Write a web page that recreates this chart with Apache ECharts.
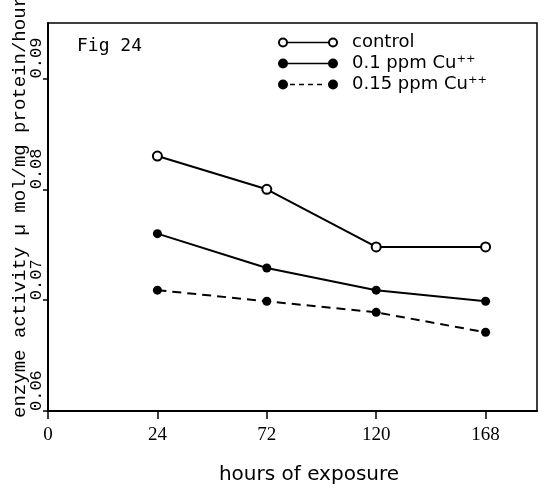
<!DOCTYPE html>
<html><head><meta charset="utf-8">
<script src="https://cdn.jsdelivr.net/npm/echarts@6/dist/echarts.min.js"></script>
<style>html,body{margin:0;padding:0;background:#fff}#c{width:547px;height:498px}</style>
</head><body><div id="c"></div>
<script>
// Tick labels of the (ordinal) time axis, in hours
const xTickLabels = ['0', '24', '72', '120', '168'];
const hours = [24, 72, 120, 168];
const yTicks = [0.06, 0.07, 0.08, 0.09];
const seriesNames = ['control', '0.1 ppm Cu\u207A\u207A', '0.15 ppm Cu\u207A\u207A'];
const control = [0.0830, 0.0800, 0.0748, 0.0748];
const cu01 = [0.0760, 0.0729, 0.0709, 0.0699];
const cu015 = [0.0709, 0.0699, 0.0689, 0.0671];

const pos = h => xTickLabels.indexOf(String(h));
const toData = vals => hours.map((h, i) => [pos(h), vals[i]]);

// legend icons: circle-line-circle
const ring = (cx) => `M${cx - 5},5 A5,5 0 1,1 ${cx + 5},5 A5,5 0 1,1 ${cx - 5},5 Z M${cx - 3},5 A3,3 0 1,0 ${cx + 3},5 A3,3 0 1,0 ${cx - 3},5 Z`;
const dot = (cx) => `M${cx - 5},5 A5,5 0 1,1 ${cx + 5},5 A5,5 0 1,1 ${cx - 5},5 Z`;
const iconOpen = 'path://' + ring(5) + ' ' + ring(55) + ' M9.5,4.2 L50.5,4.2 L50.5,5.8 L9.5,5.8 Z';
const iconSolid = 'path://' + dot(5) + ' ' + dot(55) + ' M9,4.2 L51,4.2 L51,5.8 L9,5.8 Z';
let dashes = '';
for (let x = 12; x < 48; x += 9) dashes += ` M${x},4.3 L${x + 5},4.3 L${x + 5},5.7 L${x},5.7 Z`;
const iconDash = 'path://' + dot(5) + ' ' + dot(55) + dashes;
const legendItemStyle = {color: '#000', borderWidth: 0};

const chart = echarts.init(document.getElementById('c'), null, {renderer: 'canvas'});
chart.setOption({
  animation: false,
  backgroundColor: '#fff',
  grid: {left: 48, top: 23, right: 10, bottom: 87, outerBoundsMode: 'none', containLabel: false,
    show: true, borderColor: '#000', borderWidth: 1.5, backgroundColor: 'transparent'},
  title: {text: 'Fig 24', left: 77, top: 37, padding: 0, textStyle: {fontFamily: 'DejaVu Sans Mono', fontSize: 18, fontWeight: 'normal', color: '#000'}},
  legend: {
    orient: 'vertical', left: 278, top: 32, padding: 0, itemWidth: 60, itemHeight: 10, itemGap: 0,
    textStyle: {fontFamily: 'DejaVu Sans', fontSize: 18, color: '#000', lineHeight: 21, padding: [0, 0, 0, 9]},
    data: [
      {name: seriesNames[0], icon: iconOpen, itemStyle: legendItemStyle},
      {name: seriesNames[1], icon: iconSolid, itemStyle: legendItemStyle},
      {name: seriesNames[2], icon: iconDash, itemStyle: legendItemStyle}
    ]
  },
  xAxis: {
    type: 'value', min: 0, max: 4.47, interval: 1,
    name: 'hours of exposure', nameLocation: 'middle', nameGap: 54, nameMoveOverlap: false,
    nameTextStyle: {fontFamily: 'DejaVu Sans', fontSize: 20, color: '#000', padding: [0, 0, 0, 33]},
    axisLine: {lineStyle: {color: '#000', width: 2}},
    axisTick: {show: true, length: 8, lineStyle: {color: '#000', width: 1.5}, customValues: [0, 1, 2, 3, 4]},
    axisLabel: {customValues: [0, 1, 2, 3, 4], formatter: v => xTickLabels[Math.round(v)], margin: 15,
      fontFamily: 'Liberation Serif', fontSize: 19, color: '#000'},
    splitLine: {show: false}
  },
  yAxis: {
    type: 'value', min: 0.06, max: 0.095, interval: 0.01,
    name: 'enzyme activity \u00B5 mol/mg protein/hour', nameLocation: 'middle', nameGap: 19, nameRotate: 90, nameMoveOverlap: false,
    nameTextStyle: {fontFamily: 'Liberation Mono', fontSize: 19, color: '#000', padding: [0, 0, 0, 20]},
    axisLine: {lineStyle: {color: '#000', width: 2}},
    axisTick: {show: true, length: 5, lineStyle: {color: '#000', width: 1.5}, customValues: yTicks},
    axisLabel: {customValues: yTicks, formatter: v => v.toFixed(2), rotate: 90, align: 'left', verticalAlign: 'bottom', margin: 3,
      fontFamily: 'Liberation Mono', fontSize: 17, color: '#000'},
    splitLine: {show: false}
  },
  series: [
    {name: seriesNames[0], type: 'line', data: toData(control), symbol: 'circle', symbolSize: 9,
      itemStyle: {color: '#fff', borderColor: '#000', borderWidth: 2}, lineStyle: {color: '#000', width: 2}, z: 3},
    {name: seriesNames[1], type: 'line', data: toData(cu01), symbol: 'circle', symbolSize: 9,
      itemStyle: {color: '#000'}, lineStyle: {color: '#000', width: 2}},
    {name: seriesNames[2], type: 'line', data: toData(cu015), symbol: 'circle', symbolSize: 9,
      itemStyle: {color: '#000'}, lineStyle: {color: '#000', width: 2, type: [9, 6]}}
  ]
});
</script></body></html>
